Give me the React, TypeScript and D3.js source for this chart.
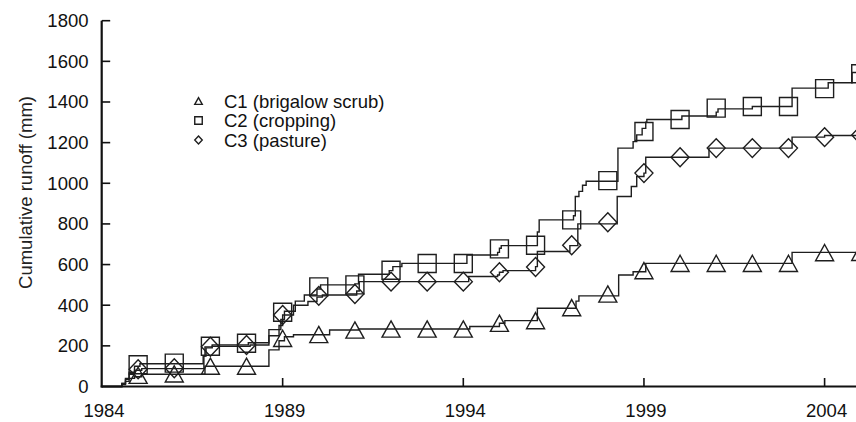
import React from 'react';
import * as d3 from 'd3';

// Cumulative runoff step series: [decimal year, cumulative runoff (mm)]
const c1Steps: [number, number][] = [
  [1984.0, 0], [1984.55, 10], [1984.65, 25], [1984.75, 40], [1984.9, 48], [1985.1, 60],
  [1986.85, 100], [1988.62, 180], [1988.9, 225], [1989.05, 245], [1989.3, 255],
  [1990.3, 278], [1991.1, 283], [1994.18, 295], [1995.0, 311], [1995.15, 324],
  [1996.05, 385], [1997.12, 420], [1997.2, 446], [1998.3, 549], [1998.7, 565],
  [1999.05, 606], [2003.1, 660],
];

const c2Steps: [number, number][] = [
  [1984.0, 0], [1984.55, 15], [1984.65, 40], [1984.75, 70], [1984.9, 100], [1985.05, 112],
  [1986.8, 150], [1986.85, 195], [1987.05, 205], [1988.05, 215], [1988.62, 280],
  [1988.95, 330], [1989.05, 370], [1989.35, 420], [1989.6, 450], [1989.95, 480],
  [1990.05, 500], [1991.0, 505], [1991.1, 552], [1991.95, 570], [1992.05, 590],
  [1992.3, 606], [1994.1, 647], [1994.95, 660], [1995.0, 680], [1995.05, 693],
  [1996.05, 760], [1996.1, 820], [1997.05, 840], [1997.1, 935], [1997.2, 960],
  [1997.3, 990], [1997.4, 1010], [1998.28, 1173], [1998.7, 1205], [1998.8, 1238],
  [1998.95, 1270], [1999.05, 1300], [1999.08, 1314], [2000.05, 1331], [2001.0, 1350],
  [2001.05, 1366], [2002.0, 1378], [2003.1, 1468], [2004.1, 1495], [2004.76, 1545],
];

const c3Steps: [number, number][] = [
  [1984.0, 0], [1984.55, 15], [1984.65, 35], [1984.75, 60], [1984.9, 80], [1985.1, 88],
  [1986.82, 150], [1986.88, 190], [1987.05, 198], [1988.1, 204], [1988.62, 250],
  [1988.9, 300], [1989.0, 352], [1989.3, 400], [1989.7, 418], [1989.95, 440],
  [1990.1, 450], [1991.05, 470], [1991.12, 516], [1994.15, 541], [1994.95, 549],
  [1995.0, 562], [1995.1, 570], [1996.0, 590], [1996.05, 664], [1996.95, 693],
  [1997.17, 800], [1998.26, 935], [1998.65, 984], [1998.8, 1033], [1999.0, 1050],
  [1999.05, 1128], [2000.8, 1173], [2003.1, 1227], [2004.0, 1235],
];

// Annual symbol positions and their values
const markerYears = [
  1985, 1986, 1987, 1988, 1989, 1990, 1991, 1992, 1993, 1994, 1995,
  1996, 1997, 1998, 1999, 2000, 2001, 2002, 2003, 2004, 2005,
];
const c1Marks = [55, 62, 100, 100, 237, 256, 278, 283, 283, 283, 311, 324, 388, 455, 570, 606, 606, 606, 606, 659, 660];
const c2Marks = [107, 115, 198, 213, 365, 490, 500, 572, 605, 605, 677, 695, 820, 1013, 1255, 1314, 1370, 1378, 1378, 1466, 1539];
const c3Marks = [85, 90, 196, 204, 352, 446, 455, 516, 516, 516, 562, 588, 695, 808, 1050, 1128, 1173, 1173, 1173, 1227, 1238];

const yTicks = [0, 200, 400, 600, 800, 1000, 1200, 1400, 1600, 1800];
const xTicks = [1984, 1989, 1994, 1999, 2004];
const legendLabels = ['C1 (brigalow scrub)', 'C2 (cropping)', 'C3 (pasture)'];
const yTitle = 'Cumulative runoff (mm)';

const W = 856;
const H = 422;
const FONT = '"Liberation Sans", Arial, Helvetica, sans-serif';
const INK = '#1e1e1e';

type Shape = 'triangle' | 'square' | 'diamond';

function shapePath(kind: Shape, cx: number, cy: number, size: number): string {
  const h = size / 2;
  if (kind === 'square') {
    return `M${cx - h},${cy - h}H${cx + h}V${cy + h}H${cx - h}Z`;
  }
  if (kind === 'diamond') {
    const hw = h * 1.0;
    const hh = h * 1.05;
    return `M${cx},${cy - hh}L${cx + hw},${cy}L${cx},${cy + hh}L${cx - hw},${cy}Z`;
  }
  const th = size * 0.9;
  return `M${cx},${cy - th / 2}L${cx + h},${cy + th / 2}L${cx - h},${cy + th / 2}Z`;
}

export default function App() {
  const x = d3.scaleLinear().domain([1984, 2005]).range([102, 102 + 21 * 36.13]);
  const y = d3.scaleLinear().domain([0, 1800]).range([386.5, 20.7]);
  const [x0, x1] = x.domain();

  const line = d3
    .line<[number, number]>()
    .x((d) => x(d[0]))
    .y((d) => y(d[1]))
    .curve(d3.curveStepAfter);

  const series: { steps: [number, number][]; marks: number[]; shape: Shape }[] = [
    { steps: c1Steps, marks: c1Marks, shape: 'triangle' },
    { steps: c2Steps, marks: c2Marks, shape: 'square' },
    { steps: c3Steps, marks: c3Marks, shape: 'diamond' },
  ];

  const axisLeft = x(x0) - 0.3;
  const axisBottom = y(0);

  return (
    <svg
      width={W}
      height={H}
      viewBox={`0 0 ${W} ${H}`}
      style={{ position: 'absolute', left: 0, top: 0, background: '#fff' }}
      fontFamily={FONT}
    >
      {/* step lines */}
      {series.map((s, i) => {
        const pts: [number, number][] = [...s.steps, [x1 + 0.5, s.steps[s.steps.length - 1][1]]];
        return (
          <path key={`l${i}`} d={line(pts) || ''} fill="none" stroke={INK} strokeWidth={1.4} />
        );
      })}

      {/* annual symbols */}
      {series.map((s, i) => (
        <g key={`m${i}`}>
          {markerYears.map((yr, j) => (
            <path
              key={yr}
              d={shapePath(s.shape, x(yr), y(s.marks[j]), 18)}
              fill="none"
              stroke={INK}
              strokeWidth={1.4}
            />
          ))}
        </g>
      ))}

      {/* axes */}
      <line x1={axisLeft} x2={axisLeft} y1={y(1800)} y2={axisBottom + 1} stroke="#111" strokeWidth={2.2} />
      <line x1={axisLeft - 1} x2={W} y1={axisBottom} y2={axisBottom} stroke="#111" strokeWidth={2.2} />

      {yTicks.map((t) => (
        <g key={`yt${t}`}>
          {t > 0 && (
            <line x1={axisLeft} x2={axisLeft + 8.5} y1={y(t)} y2={y(t)} stroke="#111" strokeWidth={1.6} />
          )}
          <text
            x={88.5}
            y={y(t)}
            textAnchor="end"
            dominantBaseline="central"
            fontSize={18.5}
            fill="#111"
          >
            {t}
          </text>
        </g>
      ))}

      {xTicks.map((t) => (
        <g key={`xt${t}`}>
          {t > x0 && (
            <line x1={x(t)} x2={x(t)} y1={axisBottom} y2={axisBottom - 8.5} stroke="#111" strokeWidth={1.6} />
          )}
          <text x={x(t) + 2} y={416.5} textAnchor="middle" fontSize={18.5} fill="#111">
            {t}
          </text>
        </g>
      ))}

      <text
        transform={`translate(32, 192.5) rotate(-90)`}
        textAnchor="middle"
        fontSize={18.5}
        fill="#222"
      >
        {yTitle}
      </text>

      {/* legend */}
      {series.map((s, i) => {
        const ly = 101 + i * 19.5;
        return (
          <g key={`lg${i}`}>
            <path d={shapePath(s.shape, 198.5, ly, 7.5)} fill="none" stroke={INK} strokeWidth={1.4} />
            <text x={224} y={ly} dominantBaseline="central" fontSize={18.5} fill="#111">
              {legendLabels[i]}
            </text>
          </g>
        );
      })}
    </svg>
  );
}
